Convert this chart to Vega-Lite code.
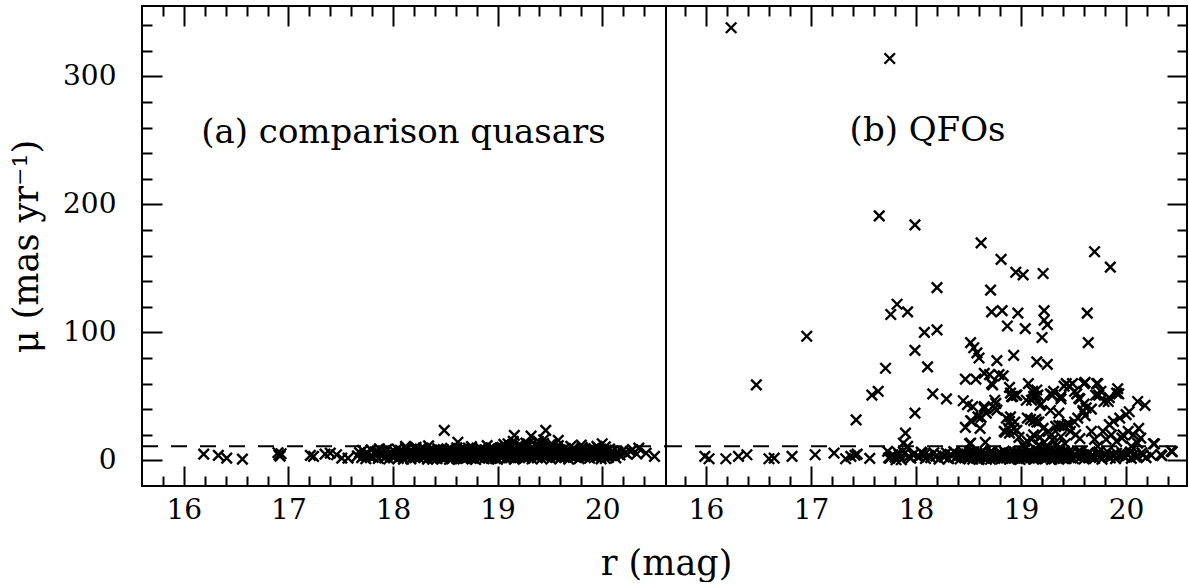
{
  "$schema": "https://vega.github.io/schema/vega-lite/v6.json",
  "background": "white",
  "padding": {"left": 8, "top": 4, "right": 1, "bottom": 0},
  "config": {
    "view": {"stroke": "black", "strokeWidth": 2},
    "font": "DejaVu Serif",
    "axis": {"domain": false, "grid": false, "ticks": true, "tickColor": "black", "tickWidth": 2, "labelColor": "black", "labelFont": "DejaVu Serif", "labelFontSize": 28, "titleFont": "DejaVu Serif", "titleFontSize": 35, "titleFontWeight": "normal", "titleColor": "black", "labelFlush": false, "labelOverlap": false, "labelBound": false}
  },
  "datasets": {
    "a": [
      {"r":16.19,"m":4.9},{"r":16.33,"m":3.9},{"r":16.41,"m":1.8},{"r":16.56,"m":1.0},{"r":16.90,"m":6.0},{"r":16.91,"m":4.2},{"r":16.93,"m":5.2},{"r":16.92,"m":3.4},{"r":17.21,"m":3.9},{"r":17.24,"m":3.1},{"r":17.35,"m":4.9},{"r":17.40,"m":5.7},{"r":17.46,"m":4.4},{"r":17.51,"m":1.8},{"r":17.57,"m":1.8},
      {"r":17.66,"m":3.5},{"r":17.68,"m":6.1},{"r":17.70,"m":2.2},{"r":17.71,"m":7.8},{"r":17.73,"m":4.6},{"r":17.74,"m":1.3},{"r":17.76,"m":5.5},{"r":17.78,"m":3.0},{"r":17.79,"m":8.2},{"r":17.81,"m":2.4},{"r":17.83,"m":6.7},{"r":17.84,"m":4.1},{"r":17.86,"m":1.5},{"r":17.87,"m":9.0},{"r":17.89,"m":3.6},{"r":17.90,"m":5.9},{"r":17.92,"m":2.0},{"r":17.93,"m":7.1},{"r":17.95,"m":4.4},{"r":17.96,"m":1.1},{"r":17.98,"m":6.3},{"r":17.99,"m":3.2},{"r":17.72,"m":4.0},{"r":17.85,"m":7.5},{"r":17.94,"m":8.6},
      {"r":18.01,"m":2.7},{"r":18.02,"m":6.4},{"r":18.03,"m":4.1},{"r":18.04,"m":8.8},{"r":18.05,"m":1.6},{"r":18.06,"m":5.2},{"r":18.08,"m":3.3},{"r":18.09,"m":7.0},{"r":18.10,"m":0.9},{"r":18.11,"m":4.8},{"r":18.12,"m":9.3},{"r":18.13,"m":2.5},{"r":18.15,"m":6.1},{"r":18.16,"m":3.9},{"r":18.17,"m":1.2},{"r":18.18,"m":7.7},{"r":18.19,"m":5.0},{"r":18.21,"m":2.1},{"r":18.22,"m":8.4},{"r":18.23,"m":4.4},{"r":18.24,"m":6.8},{"r":18.25,"m":1.7},{"r":18.27,"m":3.6},{"r":18.28,"m":5.7},{"r":18.29,"m":9.6},{"r":18.30,"m":2.9},{"r":18.31,"m":7.2},{"r":18.32,"m":4.0},{"r":18.33,"m":1.0},{"r":18.35,"m":6.5},{"r":18.36,"m":3.1},{"r":18.37,"m":8.1},{"r":18.38,"m":5.4},{"r":18.39,"m":2.2},{"r":18.40,"m":7.5},{"r":18.41,"m":4.6},{"r":18.42,"m":1.4},{"r":18.43,"m":9.0},{"r":18.44,"m":3.5},{"r":18.45,"m":6.0},{"r":18.46,"m":2.6},{"r":18.47,"m":5.1},{"r":18.48,"m":8.5},{"r":18.49,"m":1.9},{"r":18.50,"m":4.3},{"r":18.51,"m":7.0},{"r":18.52,"m":3.0},{"r":18.53,"m":5.8},{"r":18.54,"m":0.8},{"r":18.55,"m":9.4},{"r":18.56,"m":4.7},{"r":18.57,"m":2.3},{"r":18.58,"m":6.6},{"r":18.59,"m":3.8},{"r":18.60,"m":8.0},{"r":18.61,"m":1.5},{"r":18.62,"m":5.3},{"r":18.63,"m":7.6},{"r":18.64,"m":2.8},{"r":18.65,"m":4.2},{"r":18.66,"m":6.9},{"r":18.67,"m":1.1},{"r":18.68,"m":9.1},{"r":18.69,"m":3.4},{"r":18.70,"m":5.6},{"r":18.71,"m":2.0},{"r":18.72,"m":7.3},{"r":18.73,"m":4.5},{"r":18.74,"m":8.7},{"r":18.75,"m":1.8},{"r":18.76,"m":6.2},{"r":18.77,"m":3.2},{"r":18.78,"m":5.0},{"r":18.79,"m":0.7},{"r":18.80,"m":7.9},{"r":18.81,"m":4.0},{"r":18.82,"m":2.4},{"r":18.83,"m":6.4},{"r":18.84,"m":9.2},{"r":18.85,"m":3.7},{"r":18.86,"m":5.5},{"r":18.87,"m":1.3},{"r":18.88,"m":8.2},{"r":18.89,"m":4.9},{"r":18.90,"m":2.7},{"r":18.91,"m":6.7},{"r":18.92,"m":3.3},{"r":18.93,"m":7.4},{"r":18.94,"m":1.6},{"r":18.95,"m":5.2},{"r":18.96,"m":9.5},{"r":18.97,"m":2.9},{"r":18.98,"m":4.4},{"r":18.99,"m":6.1},{"r":19.00,"m":1.0},{"r":19.01,"m":8.3},{"r":19.02,"m":3.6},{"r":19.03,"m":5.9},{"r":19.04,"m":2.1},{"r":19.05,"m":7.1},{"r":19.06,"m":4.1},{"r":19.07,"m":9.8},{"r":19.08,"m":1.4},{"r":19.09,"m":6.3},{"r":19.10,"m":3.0},{"r":19.11,"m":10.5},{"r":19.12,"m":5.4},{"r":19.13,"m":2.5},{"r":19.14,"m":7.8},{"r":19.15,"m":4.6},{"r":19.16,"m":0.9},{"r":19.17,"m":8.9},{"r":19.18,"m":3.9},{"r":19.19,"m":6.0},{"r":19.20,"m":11.2},{"r":19.21,"m":2.2},{"r":19.22,"m":5.1},{"r":19.23,"m":9.0},{"r":19.24,"m":3.4},{"r":19.25,"m":7.2},{"r":19.26,"m":1.7},{"r":19.27,"m":4.8},{"r":19.28,"m":10.1},{"r":19.29,"m":6.5},{"r":19.30,"m":2.8},{"r":19.31,"m":8.4},{"r":19.32,"m":4.3},{"r":19.33,"m":1.2},{"r":19.34,"m":6.9},{"r":19.35,"m":3.7},{"r":19.36,"m":11.8},{"r":19.37,"m":5.6},{"r":19.38,"m":2.0},{"r":19.39,"m":8.0},{"r":19.40,"m":4.5},{"r":19.41,"m":9.7},{"r":19.42,"m":1.5},{"r":19.43,"m":6.2},{"r":19.44,"m":3.2},{"r":19.45,"m":10.8},{"r":19.46,"m":5.0},{"r":19.47,"m":2.6},{"r":19.48,"m":7.6},{"r":19.49,"m":4.0},{"r":19.50,"m":12.0},{"r":19.51,"m":1.1},{"r":19.52,"m":6.6},{"r":19.53,"m":3.5},{"r":19.54,"m":8.6},{"r":19.55,"m":5.3},{"r":19.56,"m":2.3},{"r":19.57,"m":9.3},{"r":19.58,"m":4.2},{"r":19.59,"m":6.8},{"r":19.60,"m":1.8},{"r":19.61,"m":3.0},{"r":19.62,"m":7.4},{"r":19.63,"m":5.7},{"r":19.64,"m":2.4},{"r":19.66,"m":8.1},{"r":19.67,"m":4.4},{"r":19.68,"m":1.0},{"r":19.69,"m":6.3},{"r":19.70,"m":3.6},{"r":19.72,"m":9.0},{"r":19.73,"m":5.1},{"r":19.74,"m":2.7},{"r":19.75,"m":7.0},{"r":19.77,"m":4.0},{"r":19.78,"m":1.4},{"r":19.79,"m":6.0},{"r":19.80,"m":3.1},{"r":19.82,"m":8.5},{"r":19.83,"m":5.5},{"r":19.84,"m":2.2},{"r":19.86,"m":7.3},{"r":19.87,"m":4.6},{"r":19.88,"m":1.7},{"r":19.90,"m":6.4},{"r":19.91,"m":3.3},{"r":19.92,"m":9.2},{"r":19.94,"m":5.0},{"r":19.95,"m":2.5},{"r":19.97,"m":7.8},{"r":19.98,"m":4.1},{"r":19.99,"m":1.2},
      {"r":18.34,"m":5.0},{"r":18.37,"m":2.0},{"r":18.41,"m":6.3},{"r":18.44,"m":8.0},{"r":18.47,"m":3.9},{"r":18.52,"m":6.9},{"r":18.56,"m":1.2},{"r":18.59,"m":5.5},{"r":18.63,"m":3.2},{"r":18.66,"m":8.3},{"r":18.70,"m":4.0},{"r":18.73,"m":6.5},{"r":18.77,"m":1.5},{"r":18.81,"m":7.0},{"r":18.85,"m":2.9},{"r":18.88,"m":5.7},{"r":18.92,"m":8.9},{"r":18.96,"m":3.8},{"r":19.00,"m":6.6},{"r":19.03,"m":2.3},{"r":19.06,"m":8.0},{"r":19.09,"m":4.4},{"r":19.13,"m":6.9},{"r":19.17,"m":2.9},{"r":19.20,"m":5.3},{"r":19.24,"m":7.9},{"r":19.27,"m":2.6},{"r":19.31,"m":5.9},{"r":19.35,"m":8.8},{"r":19.38,"m":4.9},{"r":19.42,"m":7.0},{"r":19.46,"m":3.0},{"r":19.49,"m":9.1},{"r":19.53,"m":6.1},{"r":19.57,"m":3.1},{"r":19.60,"m":8.2},
      {"r":18.02,"m":3.8},{"r":18.07,"m":7.9},{"r":18.14,"m":5.5},{"r":18.20,"m":3.0},{"r":18.26,"m":8.9},{"r":18.33,"m":6.2},{"r":18.38,"m":0.9},{"r":18.43,"m":5.2},{"r":18.48,"m":2.2},{"r":18.53,"m":8.2},{"r":18.57,"m":5.9},{"r":18.61,"m":9.9},{"r":18.64,"m":4.8},{"r":18.68,"m":2.4},{"r":18.72,"m":9.6},{"r":18.76,"m":4.1},{"r":18.79,"m":6.6},{"r":18.83,"m":1.8},{"r":18.87,"m":7.6},{"r":18.90,"m":4.2},{"r":18.94,"m":9.9},{"r":18.98,"m":1.4},{"r":19.01,"m":5.3},{"r":19.04,"m":10.2},{"r":19.08,"m":6.8},{"r":19.11,"m":2.2},{"r":19.14,"m":10.9},{"r":19.18,"m":7.4},{"r":19.21,"m":12.5},{"r":19.23,"m":4.0},{"r":19.26,"m":9.9},{"r":19.29,"m":12.8},{"r":19.33,"m":7.7},{"r":19.36,"m":4.2},{"r":19.39,"m":11.0},{"r":19.41,"m":6.0},{"r":19.44,"m":13.2},{"r":19.47,"m":8.9},{"r":19.50,"m":5.5},{"r":19.52,"m":10.4},{"r":19.55,"m":7.9},{"r":19.58,"m":11.5},{"r":19.61,"m":5.0},{"r":19.64,"m":9.5},{"r":19.67,"m":6.9},{"r":19.71,"m":3.9},{"r":19.74,"m":8.8},{"r":19.77,"m":6.4},{"r":19.81,"m":10.0},{"r":19.85,"m":4.9},{"r":19.89,"m":8.2},{"r":19.93,"m":6.8},{"r":19.96,"m":9.6},{"r":20.00,"m":5.6},{"r":20.07,"m":8.9},{"r":20.11,"m":4.2},
      {"r":18.12,"m":11.0},{"r":18.22,"m":10.2},{"r":18.34,"m":11.3},{"r":18.49,"m":23.4},{"r":18.62,"m":14.2},{"r":18.75,"m":10.8},{"r":18.90,"m":11.5},{"r":19.06,"m":12.5},{"r":19.10,"m":13.0},{"r":19.15,"m":14.8},{"r":19.16,"m":19.5},{"r":19.27,"m":13.5},{"r":19.32,"m":19.0},{"r":19.39,"m":14.8},{"r":19.46,"m":23.4},{"r":19.44,"m":16.0},{"r":19.58,"m":15.6},{"r":19.52,"m":12.8},{"r":19.70,"m":11.0},{"r":19.80,"m":12.0},{"r":19.95,"m":11.0},{"r":20.00,"m":13.0},{"r":20.03,"m":10.5},
      {"r":20.01,"m":3.5},{"r":20.02,"m":6.8},{"r":20.03,"m":1.5},{"r":20.04,"m":8.0},{"r":20.05,"m":4.6},{"r":20.06,"m":2.4},{"r":20.08,"m":6.0},{"r":20.09,"m":3.8},{"r":20.10,"m":7.3},{"r":20.12,"m":5.0},{"r":20.13,"m":2.0},{"r":20.15,"m":6.5},{"r":20.17,"m":4.2},{"r":20.19,"m":7.0},{"r":20.22,"m":6.0},{"r":20.24,"m":4.8},{"r":20.27,"m":7.0},{"r":20.29,"m":8.4},{"r":20.33,"m":5.0},{"r":20.35,"m":9.6},{"r":20.42,"m":5.7},{"r":20.50,"m":3.1}
    ],
    "b": [
      {"r":15.99,"m":3.1},{"r":16.03,"m":1.3},{"r":16.19,"m":1.3},{"r":16.31,"m":3.1},{"r":16.39,"m":4.4},{"r":16.60,"m":1.3},{"r":16.65,"m":1.8},{"r":16.82,"m":3.1},{"r":17.04,"m":4.4},{"r":17.22,"m":5.7},{"r":17.33,"m":1.3},{"r":17.38,"m":3.1},{"r":17.44,"m":4.9},{"r":17.42,"m":4.0},{"r":17.56,"m":1.6},
      {"r":17.73,"m":7.0},{"r":17.75,"m":1.8},{"r":17.78,"m":4.4},{"r":17.81,"m":0.5},{"r":17.84,"m":4.4},{"r":17.86,"m":0.5},{"r":17.90,"m":21.3},{"r":17.88,"m":13.5},{"r":17.92,"m":10.9},{"r":17.97,"m":4.4},{"r":17.99,"m":37.0},{"r":17.95,"m":1.8},{"r":18.08,"m":4.4},{"r":17.76,"m":3.0},{"r":17.80,"m":2.6},{"r":17.83,"m":6.0},{"r":17.74,"m":2.0},{"r":17.89,"m":5.5},{"r":17.93,"m":3.0},{"r":18.02,"m":2.5},{"r":18.05,"m":6.5},
      {"r":16.24,"m":338},{"r":17.75,"m":314},{"r":17.65,"m":191},{"r":17.99,"m":184},{"r":18.62,"m":170},{"r":18.81,"m":157},{"r":18.95,"m":147},{"r":19.02,"m":145},{"r":19.21,"m":146},{"r":19.70,"m":163},{"r":19.85,"m":151},{"r":18.20,"m":135},{"r":18.71,"m":133},{"r":17.82,"m":122},{"r":17.76,"m":114},{"r":17.92,"m":116},{"r":18.72,"m":116},{"r":18.82,"m":117},{"r":18.97,"m":115},{"r":19.22,"m":117},{"r":19.22,"m":109.5},{"r":19.25,"m":106},{"r":19.63,"m":115},{"r":18.87,"m":105},{"r":19.04,"m":103},{"r":19.20,"m":96},{"r":19.64,"m":92},{"r":16.96,"m":97},{"r":16.48,"m":59},{"r":18.08,"m":100},{"r":18.20,"m":102},{"r":17.99,"m":86},{"r":17.71,"m":72},{"r":18.11,"m":73},{"r":18.52,"m":92},{"r":18.55,"m":88},{"r":18.58,"m":84},{"r":18.60,"m":80},{"r":18.77,"m":78},{"r":18.93,"m":82},{"r":19.15,"m":77},{"r":19.25,"m":75},{"r":17.43,"m":31.6},{"r":17.58,"m":51},{"r":17.64,"m":54},{"r":18.16,"m":52},{"r":18.29,"m":48},
      {"r":18.47,"m":63.5},{"r":18.57,"m":63.5},{"r":18.65,"m":68},{"r":18.70,"m":67},{"r":18.72,"m":60},{"r":18.79,"m":67},{"r":18.83,"m":66},{"r":18.89,"m":57},{"r":18.90,"m":52.6},{"r":18.92,"m":50},{"r":18.95,"m":51},{"r":19.07,"m":60},{"r":19.05,"m":47},{"r":19.11,"m":54},{"r":19.14,"m":50},{"r":19.16,"m":51},{"r":19.19,"m":44},{"r":19.28,"m":52},{"r":19.30,"m":51},{"r":19.38,"m":48},{"r":19.41,"m":58},{"r":19.49,"m":60},{"r":19.61,"m":61},{"r":19.72,"m":60},{"r":19.53,"m":52},{"r":19.56,"m":48},{"r":19.60,"m":44},{"r":19.74,"m":51},{"r":19.79,"m":46},{"r":19.84,"m":49},{"r":19.92,"m":56},{"r":19.93,"m":52},{"r":19.67,"m":40},{"r":19.59,"m":39},{"r":19.61,"m":35},{"r":20.11,"m":46},{"r":20.18,"m":43},{"r":18.45,"m":46.6},{"r":18.49,"m":43.5},{"r":18.54,"m":42},{"r":18.65,"m":42},{"r":18.67,"m":37},{"r":18.62,"m":33.6},{"r":18.75,"m":47},{"r":18.75,"m":40.6},{"r":18.86,"m":33},{"r":18.89,"m":30.5},{"r":18.93,"m":25},{"r":18.84,"m":22.7},{"r":18.89,"m":21.3},{"r":19.06,"m":33},{"r":19.09,"m":32},{"r":19.14,"m":32},{"r":19.17,"m":30},{"r":18.47,"m":25.8},{"r":18.53,"m":30.5},{"r":18.61,"m":25},{"r":19.21,"m":25},{"r":19.26,"m":22.7},{"r":19.29,"m":20},{"r":19.33,"m":26.6},{"r":19.36,"m":27.3},{"r":19.41,"m":26.6},{"r":19.46,"m":27.9},{"r":19.39,"m":27},{"r":19.44,"m":28.5},{"r":19.51,"m":30},{"r":19.54,"m":33},{"r":19.59,"m":38},{"r":19.62,"m":41},{"r":19.47,"m":22.7},{"r":19.52,"m":20},{"r":19.56,"m":17},{"r":19.67,"m":22.7},{"r":19.70,"m":16.4},{"r":19.73,"m":11},{"r":19.78,"m":22.7},{"r":19.84,"m":27.9},{"r":19.88,"m":30.5},{"r":19.94,"m":33},{"r":20.00,"m":35.7},{"r":20.03,"m":38},{"r":19.81,"m":16.4},{"r":19.86,"m":20},{"r":19.91,"m":14.8},{"r":19.96,"m":17.4},{"r":19.97,"m":20},{"r":20.02,"m":22.7},{"r":20.07,"m":20},{"r":20.12,"m":25},{"r":20.14,"m":17.4},{"r":20.11,"m":13.5},{"r":20.05,"m":10.9},{"r":18.66,"m":14.1},{"r":18.52,"m":13.5},{"r":20.27,"m":12.9},{"r":20.33,"m":4.4},{"r":20.43,"m":7.3},{"r":19.10,"m":16.4},{"r":19.17,"m":12.2},{"r":19.24,"m":9.6},{"r":19.27,"m":4.4},{"r":19.32,"m":1.8},{"r":19.37,"m":7.0},{"r":19.04,"m":9.6},{"r":19.10,"m":4.4},{"r":18.97,"m":4.4},{"r":18.52,"m":31},{"r":18.59,"m":34},{"r":18.65,"m":40.6},{"r":18.76,"m":44.6},{"r":18.77,"m":39.3},{"r":18.51,"m":13},{"r":18.73,"m":59},{"r":18.91,"m":49.8},{"r":18.96,"m":51},{"r":18.85,"m":22},{"r":18.88,"m":25},{"r":18.94,"m":30},{"r":18.90,"m":34},{"r":18.96,"m":23.5},{"r":19.12,"m":50},{"r":19.15,"m":55},{"r":19.10,"m":47},{"r":19.18,"m":43},{"r":19.12,"m":31},{"r":19.15,"m":30},{"r":19.31,"m":54},{"r":19.38,"m":50},{"r":19.28,"m":39},{"r":19.36,"m":37},{"r":19.43,"m":60},{"r":19.46,"m":58},{"r":19.51,"m":54},{"r":19.55,"m":48.5},{"r":19.60,"m":60},{"r":19.73,"m":60},{"r":19.71,"m":51},{"r":19.76,"m":54},{"r":19.83,"m":46},{"r":19.91,"m":52.5},{"r":20.26,"m":13},{"r":20.34,"m":3.8},{"r":20.44,"m":6.9},
      {"r":19.18,"m":18},{"r":19.22,"m":14},{"r":19.26,"m":10.5},{"r":19.30,"m":16},{"r":19.34,"m":12},{"r":19.38,"m":18.5},{"r":19.42,"m":13},{"r":19.36,"m":9},{"r":19.02,"m":12},{"r":19.06,"m":15},{"r":19.12,"m":20},{"r":18.98,"m":18},
      {"r":18.03,"m":3.0},{"r":18.06,"m":5.5},{"r":18.09,"m":1.5},{"r":18.12,"m":4.0},{"r":18.14,"m":2.2},{"r":18.17,"m":6.0},{"r":18.19,"m":3.4},{"r":18.22,"m":1.0},{"r":18.24,"m":4.8},{"r":18.27,"m":2.6},{"r":18.29,"m":5.9},{"r":18.31,"m":1.4},{"r":18.34,"m":3.9},{"r":18.36,"m":6.8},{"r":18.38,"m":2.0},{"r":18.40,"m":4.5},{"r":18.42,"m":1.1},{"r":18.44,"m":3.3},{"r":18.45,"m":6.2},{"r":18.47,"m":2.4},{"r":18.48,"m":4.9},{"r":18.50,"m":1.6},{"r":18.51,"m":7.0},{"r":18.53,"m":3.6},{"r":18.54,"m":1.0},{"r":18.56,"m":5.0},{"r":18.57,"m":2.8},{"r":18.59,"m":4.2},{"r":18.60,"m":0.8},{"r":18.62,"m":6.4},{"r":18.63,"m":3.0},{"r":18.65,"m":1.8},{"r":18.66,"m":5.3},{"r":18.68,"m":2.5},{"r":18.69,"m":4.0},{"r":18.71,"m":0.9},{"r":18.72,"m":6.8},{"r":18.74,"m":3.5},{"r":18.75,"m":1.5},{"r":18.77,"m":4.6},{"r":18.78,"m":2.2},{"r":18.80,"m":5.8},{"r":18.81,"m":1.2},{"r":18.83,"m":3.8},{"r":18.84,"m":7.2},{"r":18.86,"m":2.0},{"r":18.87,"m":4.4},{"r":18.89,"m":1.0},{"r":18.90,"m":6.0},{"r":18.92,"m":3.1},{"r":18.93,"m":1.7},{"r":18.95,"m":5.2},{"r":18.96,"m":2.6},{"r":18.98,"m":4.0},{"r":18.99,"m":0.7},{"r":19.01,"m":6.6},{"r":19.02,"m":2.9},{"r":19.03,"m":4.9},{"r":19.05,"m":1.4},{"r":19.06,"m":3.6},{"r":19.08,"m":7.6},{"r":19.09,"m":2.1},{"r":19.11,"m":5.4},{"r":19.12,"m":0.9},{"r":19.13,"m":3.3},{"r":19.15,"m":6.2},{"r":19.16,"m":1.8},{"r":19.18,"m":4.5},{"r":19.19,"m":2.4},{"r":19.21,"m":8.2},{"r":19.22,"m":3.9},{"r":19.23,"m":1.2},{"r":19.25,"m":5.6},{"r":19.26,"m":2.8},{"r":19.28,"m":7.0},{"r":19.29,"m":0.8},{"r":19.30,"m":4.2},{"r":19.32,"m":6.0},{"r":19.33,"m":2.2},{"r":19.35,"m":3.7},{"r":19.36,"m":1.0},{"r":19.38,"m":5.0},{"r":19.39,"m":2.6},{"r":19.41,"m":7.4},{"r":19.43,"m":1.6},{"r":19.44,"m":4.0},{"r":19.46,"m":2.2},{"r":19.48,"m":5.8},{"r":19.50,"m":1.3},{"r":19.52,"m":3.6},{"r":19.54,"m":6.4},{"r":19.56,"m":2.0},{"r":19.58,"m":4.6},{"r":19.60,"m":1.1},{"r":19.62,"m":3.3},{"r":19.64,"m":6.0},{"r":19.66,"m":2.4},{"r":19.68,"m":4.4},{"r":19.70,"m":1.5},{"r":19.72,"m":5.5},{"r":19.75,"m":2.8},{"r":19.77,"m":0.9},{"r":19.80,"m":4.1},{"r":19.82,"m":6.9},{"r":19.85,"m":2.0},{"r":19.88,"m":4.8},{"r":19.90,"m":1.4},{"r":19.93,"m":3.8},{"r":19.96,"m":6.2},{"r":19.99,"m":2.5},{"r":20.02,"m":4.3},{"r":20.05,"m":1.6},{"r":20.08,"m":5.1},{"r":20.11,"m":3.0},{"r":20.15,"m":6.0},{"r":20.19,"m":2.2},{"r":20.24,"m":4.0},
      {"r":18.46,"m":4.0},{"r":18.52,"m":2.8},{"r":18.58,"m":5.6},{"r":18.64,"m":3.9},{"r":18.70,"m":6.0},{"r":18.76,"m":2.9},{"r":18.82,"m":4.8},{"r":18.88,"m":2.9},{"r":18.94,"m":6.5},{"r":19.00,"m":3.2},{"r":19.04,"m":5.0},{"r":19.10,"m":2.9},{"r":19.14,"m":4.6},{"r":19.20,"m":6.8},{"r":19.24,"m":3.0},{"r":19.27,"m":5.2},{"r":19.31,"m":2.9},{"r":19.34,"m":6.6},{"r":19.37,"m":3.5},{"r":19.40,"m":1.5},{"r":19.42,"m":4.8},
      {"r":18.43,"m":5.4},{"r":18.49,"m":2.0},{"r":18.55,"m":6.6},{"r":18.61,"m":3.4},{"r":18.67,"m":0.9},{"r":18.73,"m":5.0},{"r":18.79,"m":2.6},{"r":18.85,"m":5.6},{"r":18.91,"m":1.5},{"r":18.97,"m":6.8},{"r":19.03,"m":1.8},{"r":19.07,"m":5.6},{"r":19.13,"m":1.6},{"r":19.17,"m":6.9},{"r":19.23,"m":4.6},{"r":19.29,"m":3.2},{"r":19.33,"m":5.1},{"r":19.38,"m":3.3},{"r":19.45,"m":6.2},{"r":19.51,"m":4.4},{"r":19.57,"m":6.7},{"r":19.63,"m":4.9},{"r":19.69,"m":2.7},{"r":19.74,"m":6.6},{"r":19.83,"m":2.9},{"r":19.91,"m":5.6},{"r":19.97,"m":3.9},{"r":20.04,"m":6.4},{"r":20.09,"m":2.8},{"r":20.16,"m":4.2}
    ]
  },
  "spacing": 0,
  "bounds": "flush",
  "hconcat": [
    {
      "width": 524,
      "height": 480,
      "layer": [
        {
          "data": {"values": [{}]},
          "mark": {"type": "rule", "strokeDash": [16, 13], "strokeWidth": 2, "color": "black"},
          "encoding": {
            "x": {"datum": 15.6, "type": "quantitative", "scale": {"domain": [15.6, 20.61], "nice": false, "zero": false},
              "axis": {"orient": "top", "values": [16,17,18,19,20], "tickSize": -20, "labels": false, "title": null}},
            "x2": {"datum": 20.61},
            "y": {"datum": 11, "type": "quantitative", "scale": {"domain": [-20, 355], "nice": false, "zero": false},
              "axis": {"orient": "left", "values": [0,100,200,300], "tickSize": -20, "labelPadding": 46,
                "labelExpr": "format(datum.value, 'd')",
                "title": "μ (mas yr⁻¹)", "titlePadding": 18}}
          }
        },
        {
          "data": {"name": "a"},
          "mark": {"type": "point", "shape": "M-1,-1L1,1M-1,1L1,-1", "filled": false, "stroke": "black", "strokeWidth": 2.4, "size": 110, "opacity": 1},
          "encoding": {
            "x": {"field": "r", "type": "quantitative", "scale": {"domain": [15.6, 20.61], "nice": false, "zero": false},
              "axis": {"orient": "bottom", "values": [16,17,18,19,20], "tickSize": 20, "offset": -20, "labelPadding": 10,
                "labelExpr": "format(datum.value, 'd')",
                "title": "r (mag)", "titleX": 524, "titlePadding": 22}},
            "y": {"field": "m", "type": "quantitative", "scale": {"domain": [-20, 355], "nice": false, "zero": false},
              "axis": {"orient": "left", "values": [20,40,60,80,120,140,160,180,220,240,260,280,320,340], "tickSize": -10, "labels": false, "title": null}}
          }
        },
        {
          "data": {"values": [{"t": "(a) comparison quasars"}]},
          "mark": {"type": "text", "fontSize": 34, "font": "DejaVu Serif", "align": "center", "baseline": "middle", "color": "black"},
          "encoding": {
            "x": {"datum": 18.1, "type": "quantitative", "scale": {"domain": [15.6, 20.61], "nice": false, "zero": false},
              "axis": {"orient": "top", "values": [15.8,16.2,16.4,16.6,16.8,17.2,17.4,17.6,17.8,18.2,18.4,18.6,18.8,19.2,19.4,19.6,19.8,20.2,20.4], "tickSize": -10, "labels": false, "title": null}},
            "y": {"datum": 256, "type": "quantitative", "scale": {"domain": [-20, 355], "nice": false, "zero": false}, "axis": null},
            "text": {"field": "t"}
          }
        },
        {
          "data": {"values": [{}]},
          "mark": {"type": "rule", "strokeWidth": 0, "strokeOpacity": 0},
          "encoding": {
            "x": {"datum": 15.6, "type": "quantitative", "scale": {"domain": [15.6, 20.61], "nice": false, "zero": false},
              "axis": {"orient": "bottom", "values": [15.8,16.2,16.4,16.6,16.8,17.2,17.4,17.6,17.8,18.2,18.4,18.6,18.8,19.2,19.4,19.6,19.8,20.2,20.4], "tickSize": 10, "offset": -10, "labels": false, "title": null}},
            "x2": {"datum": 20.61},
            "y": {"datum": 0, "type": "quantitative", "scale": {"domain": [-20, 355], "nice": false, "zero": false}, "axis": null}
          }
        }
      ],
      "resolve": {"axis": {"x": "independent", "y": "independent"}}
    },
    {
      "width": 521,
      "height": 480,
      "layer": [
        {
          "data": {"values": [{}]},
          "mark": {"type": "rule", "strokeDash": [16, 13], "strokeWidth": 2, "color": "black"},
          "encoding": {
            "x": {"datum": 15.62, "type": "quantitative", "scale": {"domain": [15.62, 20.58], "nice": false, "zero": false},
              "axis": {"orient": "top", "values": [16,17,18,19,20], "tickSize": -20, "labels": false, "title": null}},
            "x2": {"datum": 20.58},
            "y": {"datum": 11, "type": "quantitative", "scale": {"domain": [-20, 355], "nice": false, "zero": false},
              "axis": {"orient": "right", "values": [0,100,200,300], "tickSize": -20, "labels": false, "title": null}}
          }
        },
        {
          "data": {"name": "b"},
          "mark": {"type": "point", "shape": "M-1,-1L1,1M-1,1L1,-1", "filled": false, "stroke": "black", "strokeWidth": 2.4, "size": 110, "opacity": 1},
          "encoding": {
            "x": {"field": "r", "type": "quantitative", "scale": {"domain": [15.62, 20.58], "nice": false, "zero": false},
              "axis": {"orient": "bottom", "values": [16,17,18,19,20], "tickSize": 20, "offset": -20, "labelPadding": 10,
                "labelExpr": "format(datum.value, 'd')", "title": null}},
            "y": {"field": "m", "type": "quantitative", "scale": {"domain": [-20, 355], "nice": false, "zero": false},
              "axis": {"orient": "right", "values": [20,40,60,80,120,140,160,180,220,240,260,280,320,340], "tickSize": -10, "labels": false, "title": null}}
          }
        },
        {
          "data": {"values": [{"t": "(b) QFOs"}]},
          "mark": {"type": "text", "fontSize": 34, "font": "DejaVu Serif", "align": "center", "baseline": "middle", "color": "black"},
          "encoding": {
            "x": {"datum": 18.11, "type": "quantitative", "scale": {"domain": [15.62, 20.58], "nice": false, "zero": false},
              "axis": {"orient": "top", "values": [15.8,16.2,16.4,16.6,16.8,17.2,17.4,17.6,17.8,18.2,18.4,18.6,18.8,19.2,19.4,19.6,19.8,20.2,20.4], "tickSize": -10, "labels": false, "title": null}},
            "y": {"datum": 257, "type": "quantitative", "scale": {"domain": [-20, 355], "nice": false, "zero": false}, "axis": null},
            "text": {"field": "t"}
          }
        },
        {
          "data": {"values": [{}]},
          "mark": {"type": "rule", "strokeWidth": 0, "strokeOpacity": 0},
          "encoding": {
            "x": {"datum": 15.62, "type": "quantitative", "scale": {"domain": [15.62, 20.58], "nice": false, "zero": false},
              "axis": {"orient": "bottom", "values": [15.8,16.2,16.4,16.6,16.8,17.2,17.4,17.6,17.8,18.2,18.4,18.6,18.8,19.2,19.4,19.6,19.8,20.2,20.4], "tickSize": 10, "offset": -10, "labels": false, "title": null}},
            "x2": {"datum": 20.58},
            "y": {"datum": 0, "type": "quantitative", "scale": {"domain": [-20, 355], "nice": false, "zero": false}, "axis": null}
          }
        }
      ],
      "resolve": {"axis": {"x": "independent", "y": "independent"}}
    }
  ]
}
